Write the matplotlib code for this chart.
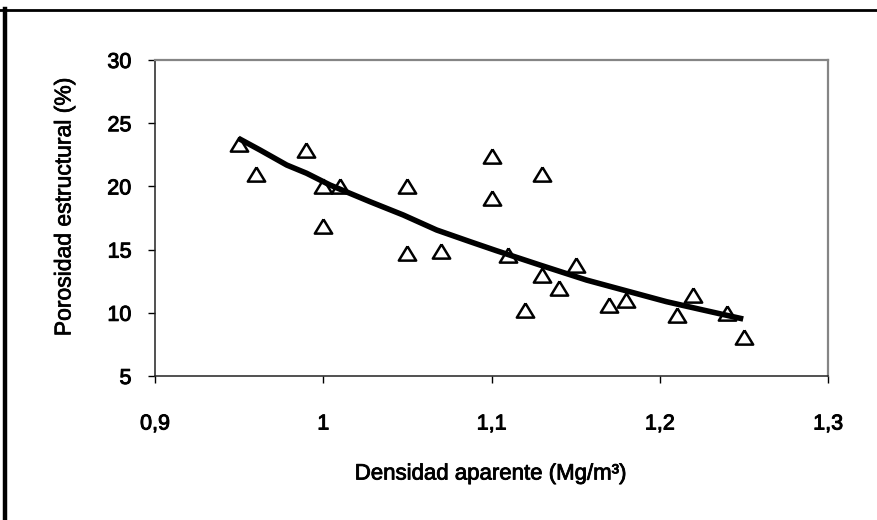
import matplotlib
matplotlib.use("Agg")
import matplotlib.pyplot as plt
from matplotlib.lines import Line2D
import matplotlib.patheffects as pe

# data
dens = [0.95, 0.96, 0.99, 1.00, 1.00, 1.01, 1.05, 1.05, 1.07, 1.10, 1.10, 1.11,
        1.12, 1.13, 1.13, 1.14, 1.15, 1.17, 1.18, 1.21, 1.22, 1.24, 1.25]
poro = [23.35, 21.0, 22.9, 20.0, 16.9, 20.0, 20.0, 14.7, 14.9, 22.4, 19.05, 14.55,
        10.2, 21.0, 13.0, 12.0, 13.8, 10.6, 11.0, 9.83, 11.4, 10.0, 8.1]

trend_x = [0.9495, 0.9624, 0.9783, 0.9901, 1.0040, 1.0278, 1.0475, 1.0674, 1.0872,
           1.1030, 1.1288, 1.1565, 1.1723, 1.2040, 1.2238, 1.2496]
trend_y = [23.81, 22.88, 21.69, 21.04, 20.11, 18.79, 17.74, 16.55, 15.63,
           14.91, 13.78, 12.59, 12.02, 10.88, 10.28, 9.51]

xticks = [0.9, 1.0, 1.1, 1.2, 1.3]
xtick_labels = ["0,9", "1", "1,1", "1,2", "1,3"]
yticks = [5, 10, 15, 20, 25, 30]

W, H = 877, 520
fig = plt.figure(figsize=(W / 100, H / 100), dpi=100)
ax = fig.add_axes([155 / W, 1 - 376 / H, (828 - 155) / W, (376 - 60) / H])

tri = [(0, 0.82), (-1, -0.82), (1, -0.82), (0, 0.82)]
ax.plot(dens, poro, linestyle="none", marker=tri, markersize=12.5,
        markerfacecolor="none", markeredgecolor="black", markeredgewidth=1.8, zorder=2)
ax.plot(trend_x, trend_y, color="black", linewidth=4, solid_capstyle="butt", zorder=3)

ax.set_xlim(0.9, 1.3)
ax.set_ylim(5, 30)
ax.set_xticks(xticks)
ax.set_xticklabels(xtick_labels)
ax.set_yticks(yticks)

thick = [pe.withStroke(linewidth=0.7, foreground="black")]
tick_font = ["Liberation Sans", "DejaVu Sans"]
for lab in ax.get_xticklabels() + ax.get_yticklabels():
    lab.set_family(tick_font)
    lab.set_fontsize(15.5)
    lab.set_path_effects(thick)
ax.tick_params(axis="x", direction="out", length=5, width=1, pad=22, colors="black")
ax.tick_params(axis="y", direction="out", length=5, width=1, pad=12, colors="black")

for side in ["top", "right"]:
    ax.spines[side].set_color("#858585")
    ax.spines[side].set_linewidth(1.6)
for side in ["left", "bottom"]:
    ax.spines[side].set_color("#222222")
    ax.spines[side].set_linewidth(1.1)

fig.text(64 / W, 1 - 207 / H, "Porosidad estructural (%)", rotation=90,
         ha="center", va="center", fontsize=16.5, family=tick_font,
         path_effects=[pe.withStroke(linewidth=0.5, foreground="black")])
fig.text(491 / W, 1 - 474 / H, "Densidad aparente (Mg/m³)",
         ha="center", va="center", fontsize=16,
         family=["Liberation Sans Narrow", "Liberation Sans", "DejaVu Sans"],
         path_effects=[pe.withStroke(linewidth=0.6, foreground="black")])

# figure frame (thick black lines on left and top)
fig.add_artist(Line2D([4.8 / W, 4.8 / W], [0, 1 - 9 / H], transform=fig.transFigure,
                      color="black", linewidth=3.2))
fig.add_artist(Line2D([0, 1], [1 - 9.7 / H, 1 - 9.7 / H], transform=fig.transFigure,
                      color="black", linewidth=2))

fig.savefig("out.png", dpi=100)
